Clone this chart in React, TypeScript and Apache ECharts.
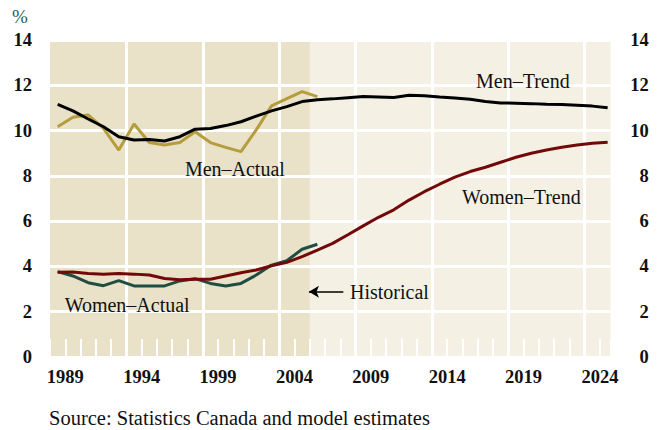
import React, { useEffect, useRef } from "react";
import * as echarts from "echarts";

// Years (data plotted at mid-year)
const FIRST_YEAR = 1988;
const MID_YEAR = 0.5;
const HIST_END = 2005;
const GRID_YEARS = [1993, 1998, 2003, 2008, 2013, 2018, 2023];
const LABEL_YEARS = [1989, 1994, 1999, 2004, 2009, 2014, 2019, 2024];

// 1988 .. 2005
const menActual = [10.17, 10.59, 10.69, 10.1, 9.14, 10.29, 9.47, 9.36, 9.47, 9.95, 9.47, 9.26, 9.07, 10.03, 11.09, 11.41, 11.72, 11.5];
const womenActual = [3.77, 3.58, 3.28, 3.15, 3.37, 3.14, 3.14, 3.14, 3.36, 3.46, 3.25, 3.14, 3.25, 3.62, 4.06, 4.25, 4.76, 4.98];
// 1988 .. 2024
const menTrend = [
  11.16, 10.87, 10.51, 10.17, 9.73, 9.58, 9.61, 9.54, 9.73, 10.06, 10.09, 10.22, 10.39, 10.64, 10.87, 11.06, 11.28, 11.36,
  11.4, 11.45, 11.5, 11.48, 11.46, 11.56, 11.54, 11.48, 11.44, 11.38, 11.28, 11.22, 11.21, 11.19, 11.16, 11.15, 11.12, 11.08, 11.01,
];
const womenTrend = [
  3.74, 3.75, 3.69, 3.66, 3.69, 3.66, 3.62, 3.47, 3.41, 3.43, 3.43, 3.58, 3.72, 3.84, 4.03, 4.18, 4.43, 4.72,
  5.02, 5.4, 5.79, 6.17, 6.5, 6.93, 7.3, 7.63, 7.94, 8.19, 8.38, 8.6, 8.82, 9.0, 9.14, 9.26, 9.36, 9.44, 9.48,
];
const yTicks = [0, 2, 4, 6, 8, 10, 12, 14];

const FONT = "'Liberation Serif', 'DejaVu Serif', serif";
const DARK_BG = "#E9E2C9";
const LIGHT_BG = "#F4F1E4";

const toPairs = (vals: number[]) => vals.map((v, i) => [FIRST_YEAR + i + MID_YEAR, v]);

const annotation = (name: string, coord: number[], position: any = "inside") => ({
  name,
  coord,
  symbol: "rect",
  symbolSize: 1,
  itemStyle: { color: "rgba(0,0,0,0)" },
  label: {
    show: true,
    position,
    distance: 0,
    formatter: name,
    color: "#111",
    fontFamily: FONT,
    fontSize: 20,
  },
});

export default function App() {
  const ref = useRef<HTMLDivElement>(null);
  useEffect(() => {
    document.body.style.margin = "0";
    if (!ref.current) return;
    const chart = echarts.init(ref.current, null, { renderer: "svg" });
    const xCommon = {
      type: "value",
      min: 1988,
      max: 2024.7,
      interval: 1,
      z: 1.7,
      axisLine: { show: false },
      splitLine: { show: false },
      axisTick: { show: true, inside: true, length: 18, lineStyle: { color: "#fff", width: 2 } },
    };
    chart.setOption({
      animation: false,
      title: [
        { text: "%", left: 12, top: 7, padding: 0, textStyle: { color: "#2E5E55", fontFamily: FONT, fontSize: 19, fontWeight: "normal" } },
        {
          text: "Source: Statistics Canada and model estimates",
          left: 49,
          top: 407,
          padding: 0,
          textStyle: { color: "#111", fontFamily: FONT, fontSize: 20.5, fontWeight: "normal" },
        },
      ],
      grid: { left: 50, right: 53.3, top: 40, bottom: 73, show: true, backgroundColor: LIGHT_BG, borderWidth: 0 },
      xAxis: [
        {
          ...xCommon,
          position: "bottom",
          axisLabel: {
            margin: 10,
            color: "#111",
            fontFamily: FONT,
            fontSize: 18.5,
            fontWeight: "bold",
            formatter: (v: number) => (LABEL_YEARS.includes(v) ? String(v) : ""),
          },
        },
        { ...xCommon, position: "top", axisLabel: { show: false } },
      ],
      yAxis: [
        {
          type: "value",
          min: 0,
          max: 14,
          interval: 2,
          z: 1.6,
          position: "left",
          axisLine: { show: false },
          axisTick: { show: false },
          splitLine: { show: true, lineStyle: { color: "#fff", width: 3 } },
          axisLabel: {
            margin: 18,
            color: "#111",
            fontFamily: FONT,
            fontSize: 18.5,
            fontWeight: "bold",
            formatter: (v: number) => (yTicks.includes(v) ? String(v) : ""),
          },
        },
        {
          type: "value",
          min: 0,
          max: 14,
          interval: 2,
          z: 1.6,
          position: "right",
          axisLine: { show: false },
          axisTick: { show: false },
          splitLine: { show: false },
          axisLabel: {
            margin: 38,
            align: "right",
            color: "#111",
            fontFamily: FONT,
            fontSize: 18.5,
            fontWeight: "bold",
            formatter: (v: number) => (yTicks.includes(v) ? String(v) : ""),
          },
        },
      ],
      series: [
        {
          type: "line",
          data: [],
          silent: true,
          markArea: {
            silent: true,
            z: 1,
            itemStyle: { color: DARK_BG },
            data: [[{ xAxis: 1988 }, { xAxis: HIST_END }]],
          },
          markLine: {
            silent: true,
            z: 1.6,
            symbol: "none",
            label: { show: false },
            lineStyle: { color: "#fff", width: 3, type: "solid" },
            data: GRID_YEARS.map((y) => ({ xAxis: y })),
          },
        },
        {
          name: "Men–Actual",
          type: "line",
          z: 3,
          data: toPairs(menActual),
          showSymbol: false,
          lineStyle: { color: "#B59D3D", width: 3 },
          markPoint: { data: [annotation("Men–Actual", [2000.1, 8.3])] },
        },
        {
          name: "Women–Actual",
          type: "line",
          z: 3,
          data: toPairs(womenActual),
          showSymbol: false,
          lineStyle: { color: "#1F4D42", width: 3 },
          markPoint: { data: [annotation("Women–Actual", [1993.05, 2.3])] },
        },
        {
          name: "Women–Trend",
          type: "line",
          z: 4,
          data: toPairs(womenTrend),
          showSymbol: false,
          lineStyle: { color: "#720808", width: 3 },
          markPoint: {
            data: [annotation("Women–Trend", [2018.85, 7.08]), annotation("Historical", [2007.6, 2.88], "right")],
          },
          markLine: {
            silent: true,
            z: 5,
            label: { show: false },
            symbol: ["none", "arrow"],
            symbolSize: [9, 10],
            lineStyle: { color: "#000", width: 1.5, type: "solid" },
            data: [[{ coord: [2007.2, 2.88] }, { coord: [2004.95, 2.88] }]],
          },
        },
        {
          name: "Men–Trend",
          type: "line",
          z: 4,
          data: toPairs(menTrend),
          showSymbol: false,
          lineStyle: { color: "#000", width: 3 },
          markPoint: { data: [annotation("Men–Trend", [2018.95, 12.2])] },
        },
      ],
    });
    return () => chart.dispose();
  }, []);
  return <div ref={ref} style={{ width: 664, height: 430 }} />;
}
